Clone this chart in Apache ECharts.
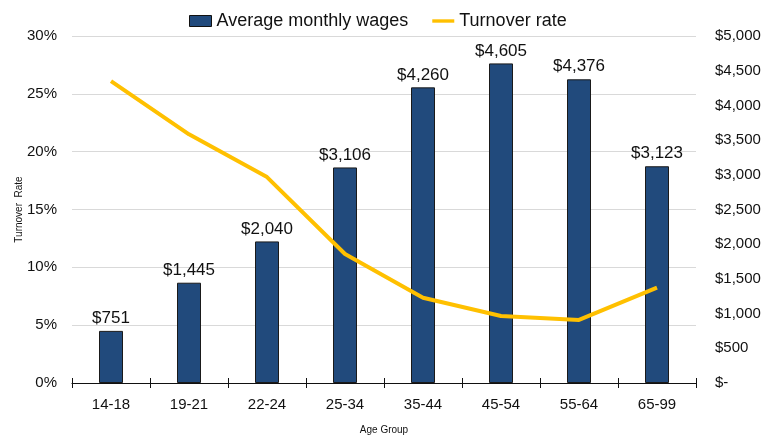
<!DOCTYPE html>
<html>
<head>
<meta charset="utf-8">
<script src="https://cdn.jsdelivr.net/npm/echarts@6/dist/echarts.min.js"></script>
<style>html,body{margin:0;padding:0;background:#fff;}#c{width:777px;height:435px;}</style>
</head>
<body>
<div id="c"></div>
<script>
const categories = ['14-18','19-21','22-24','25-34','35-44','45-54','55-64','65-99'];
const wages = [751, 1445, 2040, 3106, 4260, 4605, 4376, 3123];
const turnover = [26.1, 21.5, 17.8, 11.15, 7.37, 5.79, 5.45, 8.24];
const leftTicks = [0, 5, 10, 15, 20, 25, 30];
const rightTicks = [0, 500, 1000, 1500, 2000, 2500, 3000, 3500, 4000, 4500, 5000];

const FONT = '"Liberation Sans", Arial, sans-serif';
const chart = echarts.init(document.getElementById('c'), null, {renderer: 'canvas'});
chart.setOption({
  animation: false,
  textStyle: {fontFamily: FONT},
  legend: {
    top: 7, left: 184,
    itemGap: 24, itemWidth: 22, itemHeight: 11,
    textStyle: {fontSize: 18, color: '#111', fontFamily: FONT},
    data: [
      {name: 'Average monthly wages', icon: 'rect', itemStyle: {color: '#214a7c', borderColor: '#111', borderWidth: 1}},
      {name: 'Turnover rate', icon: 'path://M0,0 H26 V4 H0 Z', itemStyle: {color: '#ffc000', borderWidth: 0}}
    ]
  },
  grid: {left: 72, right: 81, top: 36, bottom: 52, containLabel: false, outerBoundsMode: 'none'},
  xAxis: [{
    type: 'category', data: categories,
    name: 'Age Group', nameLocation: 'middle', nameGap: 42, nameMoveOverlap: false,
    nameTextStyle: {fontSize: 10, color: '#111', fontFamily: FONT},
    axisLine: {lineStyle: {color: '#111', width: 1.2}},
    axisTick: {show: true, alignWithLabel: false, length: 5, lineStyle: {color: '#111'}},
    axisLabel: {fontSize: 15, color: '#111', margin: 14, fontFamily: FONT}
  }, {
    type: 'category', data: categories, position: 'bottom',
    axisLine: {show: false},
    axisTick: {show: true, inside: true, length: 5, lineStyle: {color: '#111'}},
    axisLabel: {show: false}
  }],
  yAxis: [{
    type: 'value', min: 0, max: 30, interval: 5,
    name: 'Turnover  Rate', nameLocation: 'middle', nameGap: 48, nameRotate: 90, nameMoveOverlap: false,
    nameTextStyle: {fontSize: 10, color: '#111', fontFamily: FONT},
    axisLine: {show: false}, axisTick: {show: false},
    splitLine: {lineStyle: {color: '#d9d9d9', width: 1}},
    axisLabel: {fontSize: 15, color: '#111', margin: 15, fontFamily: FONT,
      formatter: v => leftTicks.includes(v) ? v + '%' : ''}
  }, {
    type: 'value', min: 0, max: 5000, interval: 500, position: 'right',
    axisLine: {show: false}, axisTick: {show: false}, splitLine: {show: false},
    axisLabel: {fontSize: 15, color: '#111', margin: 19, fontFamily: FONT,
      formatter: v => rightTicks.includes(v) ? (v === 0 ? '$-' : '$' + v.toLocaleString('en-US')) : ''}
  }],
  series: [{
    name: 'Average monthly wages', type: 'bar', yAxisIndex: 1, data: wages,
    barWidth: 24,
    itemStyle: {color: '#214a7c', borderColor: '#1a1a1a', borderWidth: 1},
    label: {show: true, position: 'top', distance: 4, fontSize: 17, color: '#111', fontFamily: FONT,
      formatter: p => '$' + p.value.toLocaleString('en-US')}
  }, {
    name: 'Turnover rate', type: 'line', yAxisIndex: 0, data: turnover,
    symbol: 'none', lineStyle: {color: '#ffc000', width: 4}, itemStyle: {color: '#ffc000'}, z: 5
  }]
});
</script>
</body>
</html>
